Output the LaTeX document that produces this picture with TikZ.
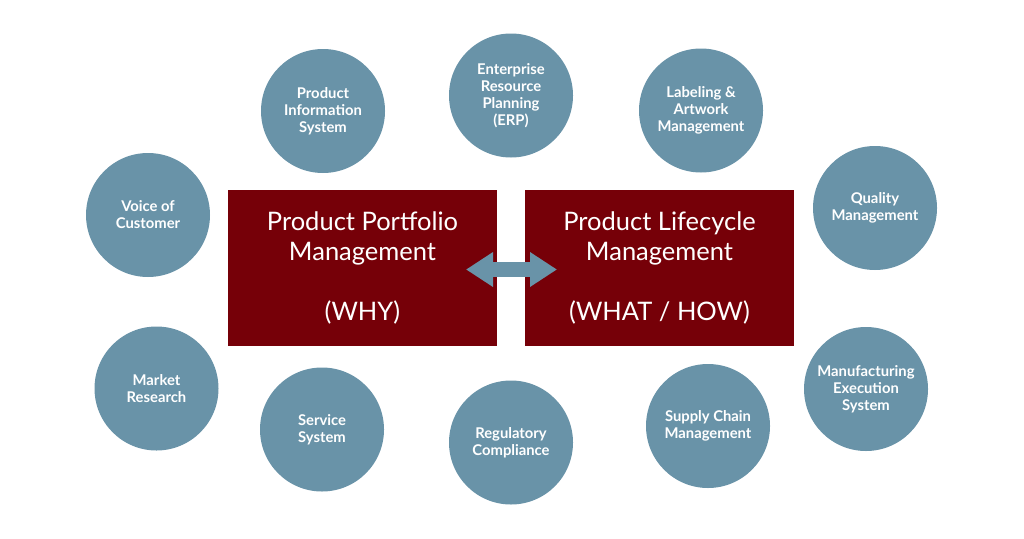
\documentclass[tikz,border=0pt]{standalone}
\usepackage{fontspec}
\setmainfont{Lato}
\usetikzlibrary{arrows.meta}
\definecolor{bubblue}{RGB}{105,147,168}
\definecolor{boxred}{RGB}{118,0,8}
\tikzset{
    bubble/.style={circle, fill=bubblue, minimum size=124pt, inner sep=0pt, align=center, text=white, font=\bfseries\fontsize{14.8}{17}\selectfont},
    redbox/.style={rectangle, fill=boxred, minimum width=269pt, minimum height=156pt, inner sep=0pt, align=center, text=white, font=\fontsize{25.5}{30}\selectfont}
}
\begin{document}
\begin{tikzpicture}[x=1pt,y=-1pt]
    \useasboundingbox (0,0) rectangle (1024,538);
    \foreach \x/\y/\nm/\txt in {148/215/voc/Voice of\\Customer, 323/111/pis/Product\\Information\\System, 511/95.5/erp/Enterprise\\Resource\\Planning\\(ERP), 701/110.5/lab/Labeling \&\\Artwork\\Management, 875/208/qm/Quality\\Management, 156.5/388.5/mr/Market\\Research, 322/429.5/ss/Service\\System, 511/442.5/rc/Regulatory\\Compliance, 708/426/scm/Supply Chain\\Management, 866/389/mes/Manufacturing\\Execution\\System} { \node[bubble] (\nm) at (\x,\y) {\txt}; }
    \node[redbox] (ppm) at (362.5,268) {Product Portfolio\\Management\\[30pt](WHY)};
    \node[redbox] (plm) at (659.5,268) {Product Lifecycle\\Management\\[30pt](WHAT / HOW)};
    \coordinate (arrl) at (466,269.5);
    \coordinate (arrr) at (557,269.5);
    \draw[bubblue, line width=15pt, {Triangle[length=27pt,width=33pt]}-{Triangle[length=27pt,width=33pt]}] (arrl) -- (arrr);
\end{tikzpicture}
\end{document}
